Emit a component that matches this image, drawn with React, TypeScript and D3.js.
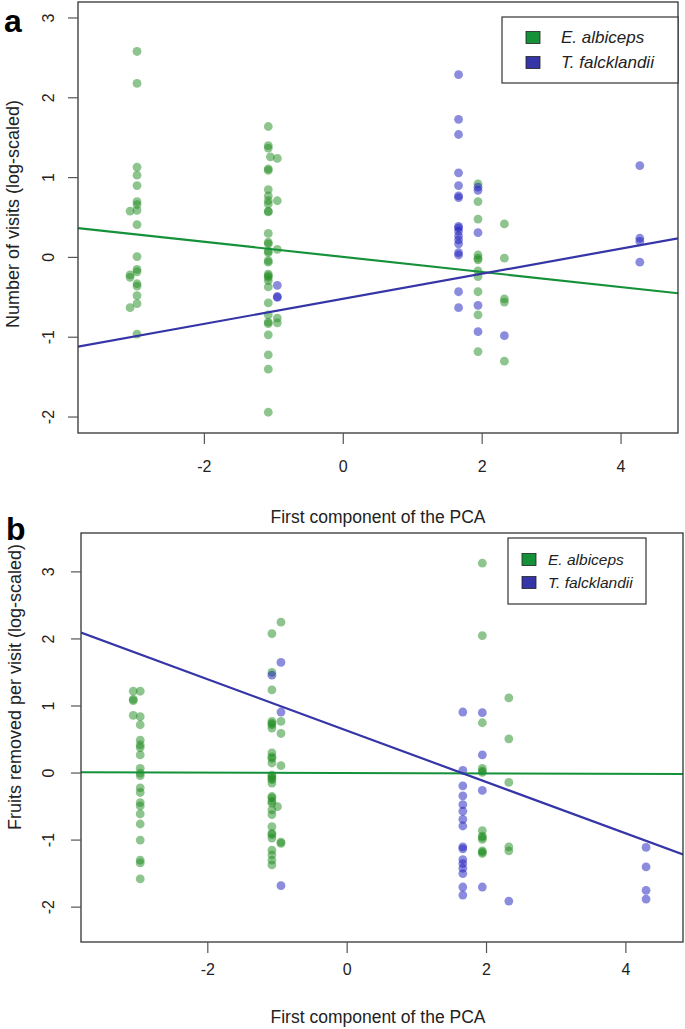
import React from "react";
import * as d3 from "d3";

const xTicks = [-2, 0, 2, 4];
const yTicks = [-2, -1, 0, 1, 2, 3];
const species = ["E. albiceps", "T. falcklandii"];
const speciesLine = ["#15913a", "#3535a8"];
const speciesPoint = ["rgb(30,140,30)", "rgb(25,25,190)"];

// Panel a: number of visits (log-scaled)
const visitsAlbiceps: [number, number][] = [
  [-2.97, 2.58], [-2.97, 2.18], [-2.97, 1.13], [-2.97, 1.03], [-2.97, 0.9], [-2.97, 0.7], [-2.97, 0.66],
  [-2.97, 0.59], [-2.97, 0.41], [-2.97, 0.01], [-2.97, -0.15], [-2.97, -0.18], [-2.97, -0.33], [-2.97, -0.36],
  [-2.97, -0.48], [-2.97, -0.58], [-2.97, -0.96],
  [-3.07, 0.58], [-3.07, -0.25], [-3.07, -0.63], [-3.07, -0.22],
  [-1.08, 1.64], [-1.08, 1.4], [-1.08, 1.37], [-1.05, 1.26], [-1.08, 1.11], [-1.08, 1.09], [-1.08, 0.85],
  [-1.08, 0.77], [-1.08, 0.71], [-1.08, 0.67], [-1.08, 0.58], [-1.08, 0.57], [-1.08, 0.3], [-1.08, 0.19],
  [-1.08, 0.17], [-1.08, 0.08], [-1.08, 0.06], [-1.08, -0.04], [-1.08, -0.06], [-1.08, -0.21], [-1.08, -0.23],
  [-1.08, -0.25], [-1.08, -0.29], [-1.08, -0.37], [-1.08, -0.57], [-1.08, -0.72], [-1.08, -0.81], [-1.08, -0.83],
  [-1.08, -0.97], [-1.08, -1.22], [-1.08, -1.4], [-1.08, -1.94],
  [-0.95, 1.24], [-0.95, 0.71], [-0.95, 0.1], [-0.95, -0.76], [-0.95, -0.82],
  [1.94, 0.92], [1.94, 0.7], [1.94, 0.48], [1.94, 0.03], [1.94, -0.01], [1.94, -0.03], [1.94, -0.17],
  [1.94, -0.24], [1.94, -0.43], [1.94, -0.72], [1.94, -1.18],
  [2.32, 0.42], [2.32, -0.01], [2.32, -0.52], [2.32, -0.56], [2.32, -1.3],
];
const visitsFalcklandii: [number, number][] = [
  [-0.95, -0.35], [-0.95, -0.49], [-0.95, -0.5],
  [1.66, 2.29], [1.66, 1.73], [1.66, 1.54], [1.66, 1.06], [1.66, 0.9], [1.66, 0.77], [1.66, 0.75],
  [1.66, 0.39], [1.66, 0.37], [1.66, 0.33], [1.66, 0.27], [1.66, 0.22], [1.66, 0.17], [1.66, 0.06],
  [1.66, 0.03], [1.66, -0.43], [1.66, -0.63],
  [1.94, 0.88], [1.94, 0.84], [1.94, 0.31], [1.94, -0.6], [1.94, -0.93],
  [2.32, -0.98],
  [4.27, 1.15], [4.27, 0.24], [4.27, 0.2], [4.27, -0.06],
];
// fitted lines: [intercept, slope]
const visitsFit: [number, number][] = [[0.006, -0.0944], [-0.518, 0.157]];

// Panel b: fruits removed per visit (log-scaled)
const fruitsAlbiceps: [number, number][] = [
  [-2.97, 1.22], [-2.97, 0.84], [-2.97, 0.72], [-2.97, 0.49], [-2.97, 0.42], [-2.97, 0.38], [-2.97, 0.27],
  [-2.97, 0.07], [-2.97, 0.0], [-2.97, -0.04], [-2.97, -0.22], [-2.97, -0.29], [-2.97, -0.44], [-2.97, -0.49],
  [-2.97, -0.61], [-2.97, -0.76], [-2.97, -1.0], [-2.97, -1.3], [-2.97, -1.34], [-2.97, -1.58],
  [-3.07, 1.22], [-3.07, 1.08], [-3.07, 1.1], [-3.07, 0.86],
  [-1.08, 2.08], [-1.08, 1.5], [-1.08, 1.24], [-1.08, 0.77], [-1.08, 0.74], [-1.08, 0.72], [-1.08, 0.67],
  [-1.08, 0.3], [-1.08, 0.24], [-1.08, 0.22], [-1.08, 0.15], [-1.08, -0.03], [-1.08, -0.05], [-1.08, -0.08],
  [-1.08, -0.1], [-1.08, -0.15], [-1.08, -0.35], [-1.08, -0.37], [-1.08, -0.42], [-1.08, -0.45], [-1.08, -0.55],
  [-1.08, -0.62], [-1.08, -0.8], [-1.08, -0.9], [-1.08, -0.92], [-1.08, -0.97], [-1.08, -1.15], [-1.08, -1.22],
  [-1.08, -1.3], [-1.08, -1.37],
  [-0.95, 2.25], [-0.95, 0.77], [-0.95, 0.59], [-0.95, 0.11], [-0.95, -1.03], [-0.95, -1.05], [-1.0, -0.5],
  [1.94, 3.13], [1.94, 2.05], [1.94, 0.75], [1.94, 0.07], [1.94, 0.03], [1.94, 0.01], [1.94, -0.86],
  [1.94, -0.94], [1.94, -0.96], [1.94, -0.99], [1.94, -1.16], [1.94, -1.18], [1.94, -1.2],
  [2.32, 1.12], [2.32, 0.51], [2.32, -0.14], [2.32, -1.1], [2.32, -1.16],
];
const fruitsFalcklandii: [number, number][] = [
  [-1.08, 1.46],
  [-0.95, 1.65], [-0.95, 0.91], [-0.95, -1.68],
  [1.66, 0.91], [1.66, 0.04], [1.66, -0.19], [1.66, -0.34], [1.66, -0.47], [1.66, -0.57], [1.66, -0.69],
  [1.66, -0.79], [1.66, -1.1], [1.66, -1.13], [1.66, -1.29], [1.66, -1.35], [1.66, -1.42], [1.66, -1.5],
  [1.66, -1.7], [1.66, -1.82],
  [1.94, 0.9], [1.94, 0.27], [1.94, -0.26], [1.94, -1.7],
  [2.32, -1.91],
  [4.29, -1.11], [4.29, -1.4], [4.29, -1.75], [4.29, -1.88],
];
const fruitsFit: [number, number][] = [[0.0, -0.003], [0.631, -0.383]];

const FONT = "'Liberation Sans', Arial, Helvetica, sans-serif";

type PanelProps = {
  letter: string;
  yTitle: string;
  left: number; right: number; top: number; bottom: number;
  xDomain: [number, number];
  yDomain: [number, number];
  series: [number, number][][];
  fits: [number, number][];
  legend: { x: number; y: number; w: number; h: number; fs: number; sq: number; tx: number; gap: number };
  yLabelX: number; yTitleX: number; yTitleY: number;
  xLabelY: number; xTitleY: number; xTitleX: number;
  letterPos: [number, number];
};

function Panel(p: PanelProps) {
  const x = d3.scaleLinear().domain(p.xDomain).range([p.left, p.right]);
  const y = d3.scaleLinear().domain(p.yDomain).range([p.bottom, p.top]);
  const line = d3.line<[number, number]>().x((d) => x(d[0])).y((d) => y(d[1]));
  return (
    <g>
      <defs>
        <clipPath id={"clip" + p.letter}>
          <rect x={p.left} y={p.top} width={p.right - p.left} height={p.bottom - p.top} />
        </clipPath>
      </defs>
      <text x={p.letterPos[0]} y={p.letterPos[1]} fontSize={32} fontWeight="bold" fontFamily={FONT}>{p.letter}</text>
      <g clipPath={`url(#clip${p.letter})`}>
        {p.series.map((pts, si) =>
          pts.map((d, i) => (
            <circle key={si + "-" + i} cx={x(d[0])} cy={y(d[1])} r={4.4} fill={speciesPoint[si]} fillOpacity={0.5} />
          ))
        )}
        {p.fits.map((f, i) => (
          <path key={i} d={line(p.xDomain.map((v) => [v, f[0] + f[1] * v]) as [number, number][]) || ""}
            stroke={speciesLine[i]} strokeWidth={2.2} fill="none" />
        ))}
      </g>
      <rect x={p.left} y={p.top} width={p.right - p.left} height={p.bottom - p.top} fill="none" stroke="#333" strokeWidth={1.3} />
      {xTicks.map((t) => (
        <g key={t}>
          <line x1={x(t)} x2={x(t)} y1={p.bottom} y2={p.bottom + 11} stroke="#555" strokeWidth={1.2} />
          <text x={x(t)} y={p.xLabelY} textAnchor="middle" fontSize={16} fontFamily={FONT} fill="#222">{t}</text>
        </g>
      ))}
      <text x={p.xTitleX} y={p.xTitleY} textAnchor="middle" fontSize={17.5} fontFamily={FONT} fill="#222">First component of the PCA</text>
      {yTicks.map((t) => (
        <g key={t}>
          <line x1={p.left - 10} x2={p.left} y1={y(t)} y2={y(t)} stroke="#555" strokeWidth={1.2} />
          <text transform={`translate(${p.yLabelX},${y(t)}) rotate(-90)`} textAnchor="middle" dy="0.35em"
            fontSize={16} fontFamily={FONT} fill="#222">{t}</text>
        </g>
      ))}
      <text transform={`translate(${p.yTitleX},${p.yTitleY}) rotate(-90)`} textAnchor="middle" dy="0.35em"
        fontSize={18} fontFamily={FONT} fill="#222">{p.yTitle}</text>
      <rect x={p.legend.x} y={p.legend.y} width={p.legend.w} height={p.legend.h} fill="white" stroke="#333" strokeWidth={1.2} />
      {species.map((s, i) => {
        const ly = p.legend.y + p.legend.h / 2 + (i - 0.5) * p.legend.gap;
        return (
          <g key={s}>
            <rect x={p.legend.x + p.legend.sq} y={ly - 6} width={14} height={12} fill={speciesLine[i]} stroke="#222" strokeWidth={0.8} />
            <text x={p.legend.x + p.legend.tx} y={ly} dy="0.35em" fontSize={p.legend.fs} fontStyle="italic" fontFamily={FONT} fill="#222">{s}</text>
          </g>
        );
      })}
    </g>
  );
}

export default function App() {
  return (
    <svg width={685} height={1029} style={{ position: "absolute", left: 0, top: 0, background: "white" }}>
      <rect width={685} height={1029} fill="white" />
      <Panel letter="a" yTitle="Number of visits (log-scaled)"
        left={78} right={678} top={2} bottom={433}
        xDomain={[-3.82, 4.82]} yDomain={[-2.2, 3.2]}
        series={[visitsAlbiceps, visitsFalcklandii]} fits={visitsFit}
        legend={{ x: 502, y: 17, w: 176, h: 66, fs: 17, sq: 24, tx: 59, gap: 25 }}
        yLabelX={48} yTitleX={13} yTitleY={214} xLabelY={472} xTitleY={523} xTitleX={378} letterPos={[4, 32]} />
      <Panel letter="b" yTitle="Fruits removed per visit (log-scaled)"
        left={81} right={683} top={533} bottom={942}
        xDomain={[-3.82, 4.82]} yDomain={[-2.52, 3.58]}
        series={[fruitsAlbiceps, fruitsFalcklandii]} fits={fruitsFit}
        legend={{ x: 508, y: 538, w: 138, h: 66, fs: 15.5, sq: 14, tx: 40, gap: 23 }}
        yLabelX={48} yTitleX={15} yTitleY={687} xLabelY={975} xTitleY={1023} xTitleX={378} letterPos={[6, 540]} />
    </svg>
  );
}
